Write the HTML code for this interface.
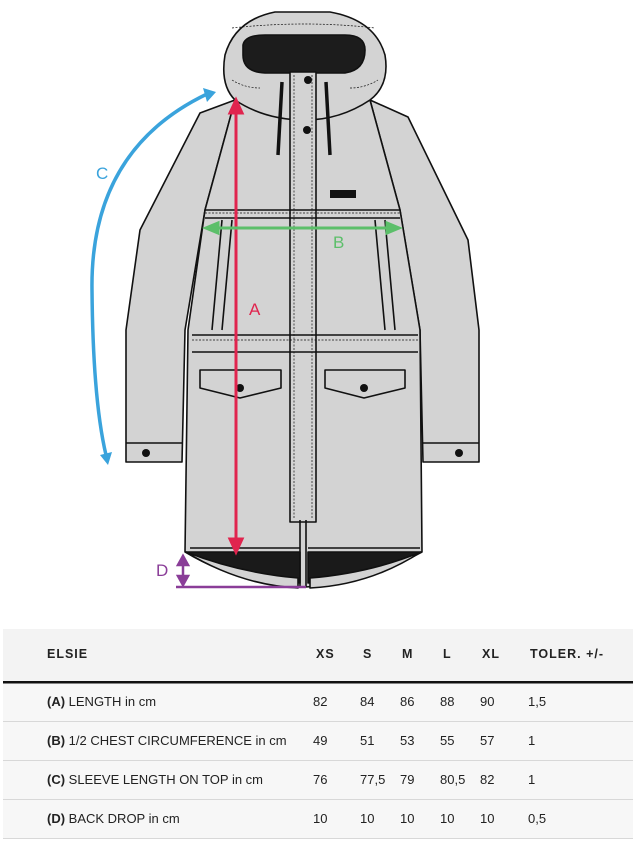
<!DOCTYPE html>
<html><head><style>
html,body{margin:0;padding:0;background:#fff;width:641px;height:852px;overflow:hidden;font-family:"Liberation Sans Narrow","Liberation Sans",sans-serif;}
svg{position:absolute;left:0;top:0}
.t{position:absolute;font-size:13px;color:#222;white-space:nowrap}
.h{font-weight:bold;letter-spacing:1px;font-family:"Liberation Sans",sans-serif;font-size:12.5px}
</style></head><body>
<svg width="641" height="852" viewBox="0 0 641 852">
<g stroke="#111" stroke-width="1.6" fill="#d3d3d3" stroke-linejoin="round">
<!-- sleeves -->
<path d="M200 113 L235 100 L205 210 L185 330 L182 462 L126 462 L126 330 L140 230 Z"/>
<path d="M408 117 L370 100 L400 210 L420 330 L423 462 L479 462 L479 330 L468 240 Z"/>
<!-- body -->
<path d="M235 100 L370 100 L400 210 L420 330 L422 552 Q360 585 305 587 Q240 585 185 552 L188 330 L205 210 Z"/>
<!-- hem lining -->
<path d="M186 552 L300 552 L300 583 Q235 578 186 552 Z" fill="#1a1a1a"/>
<path d="M308 552 L421 552 Q370 580 308 583 Z" fill="#1a1a1a"/>
<path d="M186 552 Q240 573 298 578 L298 588 Q240 585 186 552 Z" fill="#d3d3d3"/>
<path d="M421 552 Q370 573 310 578 L310 588 Q370 585 421 552 Z" fill="#d3d3d3"/>
<!-- hood -->
<path d="M235 100 Q220 85 225 55 Q235 20 275 12 L330 12 Q375 20 385 55 Q390 85 370 100 Q340 120 305 120 Q265 120 235 100 Z"/>
<path d="M243 45 Q245 35 265 35 L345 35 Q365 35 365 50 Q365 70 345 73 L265 73 Q243 72 243 55 Z" fill="#1c1c1c"/>
<!-- placket -->
<rect x="290" y="72" width="26" height="450" fill="#d3d3d3"/>
<path d="M300 520 L300 587 M306 520 L306 587" fill="none"/>
<!-- chest seams -->
<path d="M205 210 L400 210 M205 218 L400 218" fill="none"/>
<path d="M192 335 L418 335 M192 352 L418 352" fill="none"/>
<path d="M190 548 L300 548 M308 548 L420 548" fill="none"/>
<!-- hand pockets -->
<path d="M222 220 L212 330 M232 220 L222 330 M375 220 L385 330 M385 220 L395 330" fill="none"/>
<!-- flap pockets -->
<path d="M200 370 L281 370 L281 388 L240 398 L200 388 Z"/>
<path d="M325 370 L405 370 L405 388 L364 398 L325 388 Z"/>
<!-- cuffs -->
<path d="M126 443 L182 443 M423 443 L479 443" fill="none"/>
</g>
<g fill="none" stroke="#111" stroke-width="0.7" stroke-dasharray="2 1.5">
<path d="M294 75 L294 518 M312 75 L312 518"/>
<path d="M205 213 L400 213 M192 340 L418 340"/>
<path d="M232 28 Q305 20 375 28 M232 80 Q245 88 260 88 M350 88 Q365 88 378 80"/>
</g>
<!-- drawcords -->
<g stroke="#111" stroke-width="3.5" fill="none"><path d="M282 82 L278 155 M326 82 L330 155"/></g>
<g fill="#111"><circle cx="308" cy="80" r="4"/><circle cx="307" cy="130" r="4"/><circle cx="240" cy="388" r="4"/><circle cx="364" cy="388" r="4"/><circle cx="146" cy="453" r="4"/><circle cx="459" cy="453" r="4"/>
<rect x="330" y="190" width="26" height="8"/></g>
<!-- A -->
<g stroke="#e0244e" stroke-width="3" fill="#e0244e"><line x1="236" y1="112" x2="236" y2="540"/><path d="M230 113 L236 100 L242 113 Z"/><path d="M230 539 L236 552 L242 539 Z"/></g>
<text x="249" y="315" fill="#e0244e" font-size="17" font-family="Liberation Sans,sans-serif">A</text>
<!-- B -->
<g stroke="#5cbf6a" stroke-width="3" fill="#5cbf6a"><line x1="215" y1="228" x2="390" y2="228"/><path d="M218 223 L206 228 L218 233 Z"/><path d="M387 223 L399 228 L387 233 Z"/></g>
<text x="333" y="248" fill="#5cbf6a" font-size="17" font-family="Liberation Sans,sans-serif">B</text>
<!-- C -->
<path d="M207 94 Q90 150 92 290 Q93 400 106 455" stroke="#3aa3dc" stroke-width="3.5" fill="none"/>
<path d="M203 88 L216 92 L207 102 Z M100 455 L108 465 L112 452 Z" fill="#3aa3dc"/>
<text x="96" y="179" fill="#3aa3dc" font-size="17" font-family="Liberation Sans,sans-serif">C</text>
<!-- D -->
<g stroke="#8a3d98" stroke-width="2.5" fill="#8a3d98"><line x1="183" y1="562" x2="183" y2="578"/><path d="M178 565 L183 556 L188 565 Z M178 576 L183 585 L188 576 Z"/><line x1="176" y1="587" x2="306" y2="587"/></g>
<text x="156" y="576" fill="#8a3d98" font-size="17" font-family="Liberation Sans,sans-serif">D</text>
<!-- table -->
<rect x="3" y="629" width="630" height="210" fill="#f7f7f7"/>
<rect x="3" y="629" width="630" height="52" fill="#f3f3f3"/>
<rect x="3" y="681" width="630" height="2.5" fill="#111"/>
<g fill="#d8d8d8"><rect x="3" y="721" width="630" height="1"/><rect x="3" y="760" width="630" height="1"/><rect x="3" y="799" width="630" height="1"/><rect x="3" y="838" width="630" height="1"/></g>
</svg>
<div class="t h" style="left:47px;top:647px">ELSIE</div>
<div class="t h" style="left:316px;top:647px">XS</div>
<div class="t h" style="left:363px;top:647px">S</div>
<div class="t h" style="left:402px;top:647px">M</div>
<div class="t h" style="left:443px;top:647px">L</div>
<div class="t h" style="left:482px;top:647px">XL</div>
<div class="t h" style="left:530px;top:647px">TOLER. +/-</div>

<div class="t" style="left:47px;top:694px"><b>(A)</b> LENGTH in cm</div>
<div class="t" style="left:47px;top:733px"><b>(B)</b> 1/2 CHEST CIRCUMFERENCE in cm</div>
<div class="t" style="left:47px;top:772px"><b>(C)</b> SLEEVE LENGTH ON TOP in cm</div>
<div class="t" style="left:47px;top:811px"><b>(D)</b> BACK DROP in cm</div>

<div class="t" style="left:313px;top:694px">82</div><div class="t" style="left:360px;top:694px">84</div><div class="t" style="left:400px;top:694px">86</div><div class="t" style="left:440px;top:694px">88</div><div class="t" style="left:480px;top:694px">90</div><div class="t" style="left:528px;top:694px">1,5</div>
<div class="t" style="left:313px;top:733px">49</div><div class="t" style="left:360px;top:733px">51</div><div class="t" style="left:400px;top:733px">53</div><div class="t" style="left:440px;top:733px">55</div><div class="t" style="left:480px;top:733px">57</div><div class="t" style="left:528px;top:733px">1</div>
<div class="t" style="left:313px;top:772px">76</div><div class="t" style="left:360px;top:772px">77,5</div><div class="t" style="left:400px;top:772px">79</div><div class="t" style="left:440px;top:772px">80,5</div><div class="t" style="left:480px;top:772px">82</div><div class="t" style="left:528px;top:772px">1</div>
<div class="t" style="left:313px;top:811px">10</div><div class="t" style="left:360px;top:811px">10</div><div class="t" style="left:400px;top:811px">10</div><div class="t" style="left:440px;top:811px">10</div><div class="t" style="left:480px;top:811px">10</div><div class="t" style="left:528px;top:811px">0,5</div>
</body></html>
